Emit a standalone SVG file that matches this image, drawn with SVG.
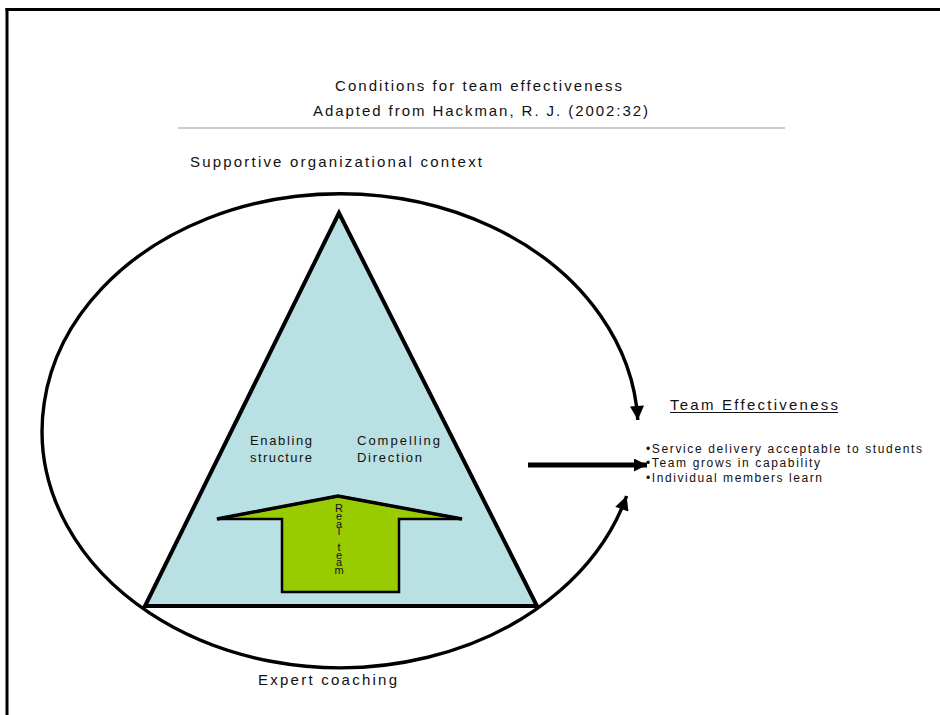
<svg xmlns="http://www.w3.org/2000/svg" width="940" height="715" viewBox="0 0 940 715">
  <style>
    text { font-family: "Liberation Sans", Arial, sans-serif; fill: #111; }
    .t15 { font-size: 15px; }
    .t13 { font-size: 13px; }
    .t12 { font-size: 12px; }
    .rt { font-size: 11px; writing-mode: vertical-rl; text-orientation: upright; }
    .edge { fill: none; stroke: #000; }
  </style>
  <defs>
    <marker id="head" viewBox="0 0 10 10" refX="10" refY="5" markerWidth="16" markerHeight="14" markerUnits="userSpaceOnUse" orient="auto-start-reverse">
      <path d="M0,0 L10,5 L0,10 z" fill="#000"/>
    </marker>
    <marker id="head2" viewBox="0 0 10 10" refX="10" refY="5" markerWidth="14" markerHeight="13" markerUnits="userSpaceOnUse" orient="auto">
      <path d="M0,0 L10,5 L0,10 z" fill="#000"/>
    </marker>
  </defs>
  <rect x="0" y="0" width="940" height="715" fill="#fff"/>

  <g id="frame">
    <line x1="5.5" y1="9.5" x2="940" y2="9.5" stroke="#000" stroke-width="3"/>
    <line x1="7" y1="8" x2="7" y2="715" stroke="#000" stroke-width="3"/>
  </g>

  <g id="title">
    <text class="t15" x="335" y="91" textLength="287" lengthAdjust="spacing">Conditions for team effectiveness</text>
    <text class="t15" x="313" y="116" textLength="335" lengthAdjust="spacing">Adapted from Hackman, R. J. (2002:32)</text>
    <line x1="178" y1="128" x2="785" y2="128" stroke="#999" stroke-width="1.2"/>
  </g>

  <g id="context-label">
    <text class="t15" x="190" y="167" textLength="292" lengthAdjust="spacing">Supportive organizational context</text>
  </g>

  <g id="connectors">
    <path class="edge" stroke-width="3.4" d="M637.8,420 A298,237 0 1 0 626.6,496" marker-start="url(#head)" marker-end="url(#head)"/>
    <line class="edge" x1="528" y1="465" x2="647" y2="465" stroke-width="5" marker-end="url(#head2)"/>
  </g>

  <g id="triangle">
    <polygon points="339,213 145,606 537,606" fill="#b9e0e3" stroke="#000" stroke-width="4" stroke-linejoin="miter"/>
  </g>

  <g id="enabling-structure">
    <text class="t13" x="250" y="445" textLength="62" lengthAdjust="spacing">Enabling</text>
    <text class="t13" x="250" y="462" textLength="62" lengthAdjust="spacing">structure</text>
  </g>

  <g id="compelling-direction">
    <text class="t13" x="357" y="445" textLength="83" lengthAdjust="spacing">Compelling</text>
    <text class="t13" x="357" y="462" textLength="65" lengthAdjust="spacing">Direction</text>
  </g>

  <g id="real-team">
    <path d="M217,519 L338,496 L462,519 L399,519 L399,592 L282,592 L282,519 Z" fill="#99cc00" stroke="#000" stroke-width="2.5" stroke-linejoin="miter"/>
    <path d="M217,519 L338,496 L462,519" fill="none" stroke="#000" stroke-width="3.5"/>
    <text class="rt" x="339" y="502" textLength="74" lengthAdjust="spacing">Real team</text>
  </g>

  <g id="expert-coaching">
    <text class="t15" x="258" y="685" textLength="139" lengthAdjust="spacing">Expert coaching</text>
  </g>

  <g id="team-effectiveness">
    <text class="t15" x="670" y="410" textLength="168" lengthAdjust="spacing">Team Effectiveness</text>
    <line x1="670" y1="412.5" x2="838" y2="412.5" stroke="#111" stroke-width="1.2"/>
    <text class="t12" x="646" y="453" textLength="276" lengthAdjust="spacing">•Service delivery acceptable to students</text>
    <text class="t12" x="646" y="467" textLength="174" lengthAdjust="spacing">•Team grows in capability</text>
    <text class="t12" x="646" y="482" textLength="176" lengthAdjust="spacing">•Individual members learn</text>
  </g>
</svg>
